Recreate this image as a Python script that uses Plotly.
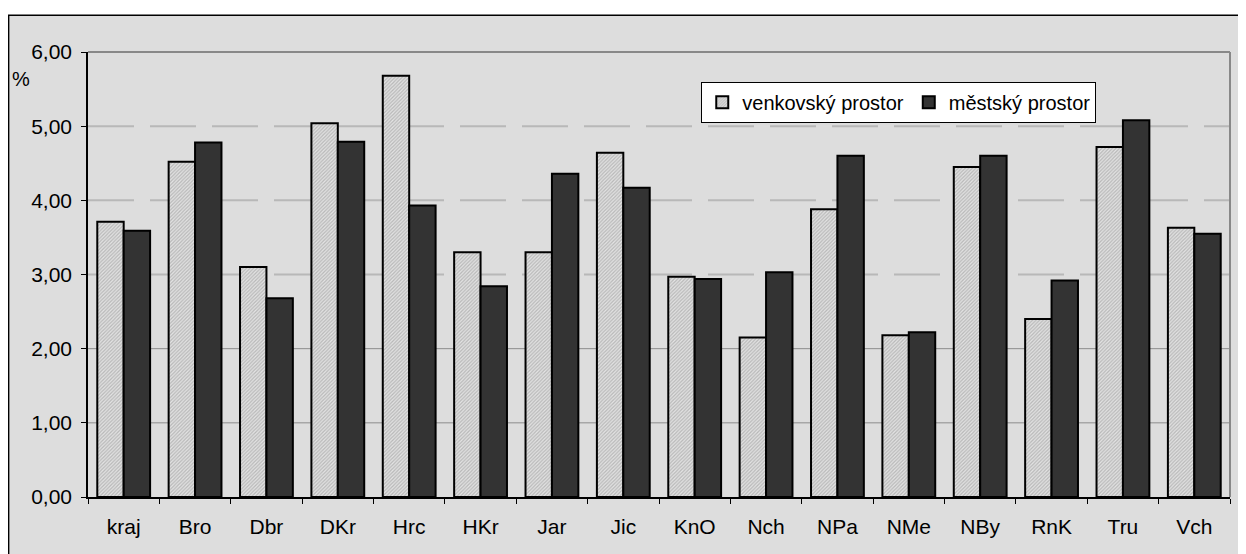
import plotly.graph_objects as go

# okresy (kategorie)
okresy = ["kraj", "Bro", "Dbr", "DKr", "Hrc", "HKr", "Jar", "Jic",
          "KnO", "Nch", "NPa", "NMe", "NBy", "RnK", "Tru", "Vch"]
venkovsky = [3.71, 4.52, 3.10, 5.04, 5.68, 3.30, 3.30, 4.64,
             2.97, 2.15, 3.88, 2.18, 4.45, 2.40, 4.72, 3.63]
mestsky = [3.59, 4.78, 2.68, 4.79, 3.93, 2.84, 4.36, 4.17,
           2.94, 3.03, 4.60, 2.22, 4.60, 2.92, 5.08, 3.55]
y_ticks = [0, 1, 2, 3, 4, 5, 6]
dashed_grid = [3, 4, 5]
solid_grid = [1, 2]

fig = go.Figure()

fig.add_trace(go.Bar(
    x=okresy, y=venkovsky, name="venkovský prostor",
    marker=dict(
        color="white",
        line=dict(color="black", width=2),
        pattern=dict(shape="/", fgcolor="#8c8c8c", bgcolor="#e4e4e4",
                     size=2.5, solidity=0.5),
    ),
    hoverinfo="skip",
))
fig.add_trace(go.Bar(
    x=okresy, y=mestsky, name="městský prostor",
    marker=dict(color="#333333", line=dict(color="black", width=2)),
    hoverinfo="skip",
))

# page body has an 8px margin, so the figure is laid out 8px in from the window edge
shapes = [
    dict(type="rect", xref="paper", yref="paper", x0=-0.0695, x1=1.05,
         y0=-0.3, y1=1.0826, fillcolor="#dddddd",
         line=dict(color="black", width=1.5), layer="below"),
]
for g in dashed_grid:
    shapes.append(dict(type="line", xref="paper", yref="y", x0=0, x1=1, y0=g, y1=g,
                       line=dict(color="#b8b8b8", width=2, dash="46px,16px"),
                       layer="below"))
for g in solid_grid:
    shapes.append(dict(type="line", xref="paper", yref="y", x0=0, x1=1, y0=g, y1=g,
                       line=dict(color="#8c8c8c", width=1), layer="below"))
shapes.append(dict(type="line", xref="paper", yref="paper", x0=0, x1=1, y0=1, y1=1,
                   line=dict(color="#888888", width=2)))
shapes.append(dict(type="line", xref="paper", yref="paper", x0=1, x1=1, y0=0, y1=1,
                   line=dict(color="#888888", width=2)))

fig.update_layout(
    width=1238, height=546,
    margin=dict(l=80, r=16, t=44, b=57),
    paper_bgcolor="white",
    plot_bgcolor="white",
    separators=", ",
    barmode="group",
    bargap=0.26,
    bargroupgap=0,
    font=dict(family="Liberation Sans, Arial, sans-serif", size=21, color="black"),
    shapes=shapes,
    showlegend=True,
    legend=dict(
        orientation="h",
        x=0.537, y=0.933, xanchor="left", yanchor="top",
        bgcolor="white", bordercolor="black", borderwidth=1,
        font=dict(size=20), itemwidth=30,
        traceorder="normal",
        tracegroupgap=0,
    ),
    annotations=[
        dict(text="%", xref="paper", yref="paper", x=-0.068, y=0.939,
             xanchor="left", yanchor="middle", showarrow=False,
             font=dict(size=20)),
    ],
    xaxis=dict(
        showgrid=False, showline=True, linecolor="black", linewidth=1.5,
        ticks="outside", ticklen=5, tickcolor="black", tickson="boundaries",
        tickfont=dict(size=21), ticklabelstandoff=10, fixedrange=True,
    ),
    yaxis=dict(
        range=[0, 6], tickvals=y_ticks, tickformat=".2f",
        showgrid=False, zeroline=False, showline=True, linecolor="black",
        linewidth=1.5, ticks="outside", ticklen=5, tickcolor="black",
        tickfont=dict(size=21), ticklabelstandoff=5, fixedrange=True,
    ),
)

fig.write_html("out.html")
